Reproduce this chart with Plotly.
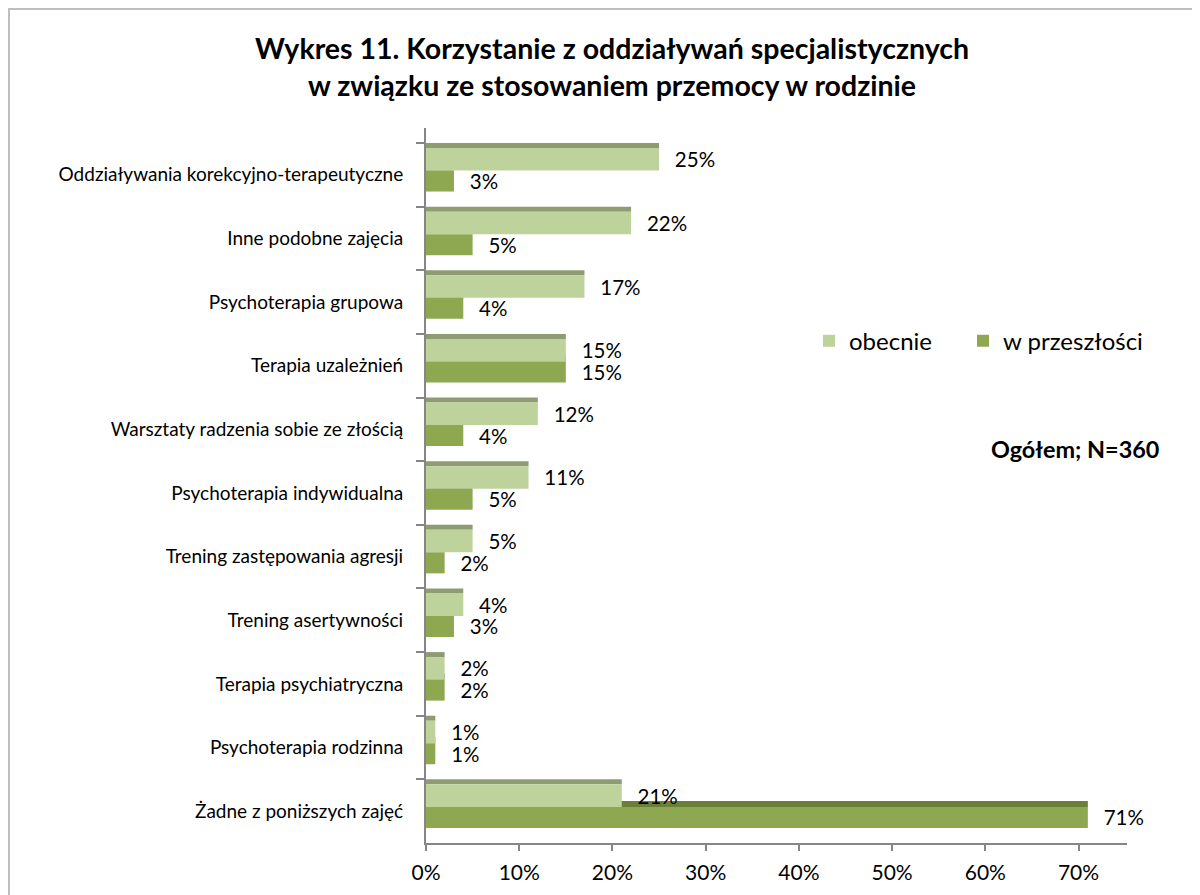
import plotly.graph_objects as go

categories = [
    "Oddziaływania korekcyjno-terapeutyczne",
    "Inne podobne zajęcia",
    "Psychoterapia grupowa",
    "Terapia uzależnień",
    "Warsztaty radzenia sobie ze złością",
    "Psychoterapia indywidualna",
    "Trening zastępowania agresji",
    "Trening asertywności",
    "Terapia psychiatryczna",
    "Psychoterapia rodzinna",
    "Żadne z poniższych zajęć",
]
obecnie = [25, 22, 17, 15, 12, 11, 5, 4, 2, 1, 21]
przeszlosc = [3, 5, 4, 15, 4, 5, 2, 3, 2, 1, 71]
x_ticks = [0, 10, 20, 30, 40, 50, 60, 70]

FONT = "Lato"
LIGHT = "#BDD39B"
LIGHT_TOP = "#8E9B73"
DARK = "#8EA852"
DARK_TOP = "#6A803A"

# plot area in page px (the html body adds an 8px margin)
L, T, W, H = 418, 120, 701, 715

# band = one category (about 63.6 px); pseudo-3D top strips drawn as thin bars
BAND = 63.6
def off(px):
    return -0.5 + px / BAND

pad = "\u2002\u2009"
label_font = dict(size=20.5, color="#000000", family=FONT)

fig = go.Figure()

# past series top strip (mostly hidden behind "obecnie")
fig.add_trace(go.Bar(
    y=categories, x=przeszlosc, orientation="h",
    offset=off(21.5), width=6 / BAND,
    marker=dict(color=DARK_TOP, line_width=0),
    showlegend=False, hoverinfo="skip",
))
fig.add_trace(go.Bar(
    y=categories, x=przeszlosc, orientation="h", name="w przeszłości",
    offset=off(27.5), width=21 / BAND,
    marker=dict(color=DARK, line_width=0),
    text=przeszlosc, texttemplate=pad + "%{x}%", textposition="outside",
    constraintext="none", cliponaxis=False, textfont=label_font,
    legend="legend2",
))
fig.add_trace(go.Bar(
    y=categories, x=obecnie, orientation="h",
    offset=off(0), width=5 / BAND,
    marker=dict(color=LIGHT_TOP, line_width=0),
    showlegend=False, hoverinfo="skip",
))
fig.add_trace(go.Bar(
    y=categories, x=obecnie, orientation="h", name="obecnie",
    offset=off(5), width=22.5 / BAND,
    marker=dict(color=LIGHT, line_width=0),
    text=obecnie, texttemplate=pad + "%{x}%", textposition="outside",
    constraintext="none", cliponaxis=False, textfont=label_font,
    legend="legend",
))

legend_style = dict(
    orientation="h", y=0.702, xanchor="left", yanchor="middle",
    font=dict(size=24, family=FONT), bgcolor="rgba(0,0,0,0)",
)

fig.update_layout(
    width=1200,
    height=895,
    barmode="overlay",
    paper_bgcolor="white",
    plot_bgcolor="white",
    margin=dict(l=L, r=1200 - L - W, t=T, b=895 - T - H, autoexpand=False),
    font=dict(family=FONT, color="#000000"),
    title=dict(
        text="Wykres 11. Korzystanie z oddziaływań specjalistycznych<br>w związku ze stosowaniem przemocy w rodzinie",
        x=604 / 1200, xanchor="center",
        y=1 - 51 / 895, yanchor="middle",
        font=dict(size=28.5, family=FONT, color="#000000", weight="bold"),
    ),
    legend=dict(x=(801 - L) / W, **legend_style),
    legend2=dict(x=(955 - L) / W, **legend_style),
    annotations=[dict(
        text="<b>Ogółem; N=360</b>",
        xref="paper", yref="paper", x=0.926, y=0.551,
        xanchor="center", yanchor="middle", showarrow=False,
        font=dict(size=23.4, family=FONT),
    )],
    shapes=[dict(
        type="rect", xref="paper", yref="paper",
        x0=(1 - L) / W, x1=1.3, y0=-0.2, y1=(T + H - 1) / H,
        line=dict(color="#BFBFBF", width=2), fillcolor="rgba(0,0,0,0)",
        layer="below",
    )],
)

fig.update_xaxes(
    range=[0, 75.2],
    tickvals=x_ticks,
    ticktext=[f"{v}%" for v in x_ticks],
    showgrid=False, zeroline=False,
    showline=True, linecolor="#868686", linewidth=2,
    ticks="outside", ticklen=6, tickcolor="#868686", tickwidth=2,
    tickfont=dict(size=21, family=FONT),
    ticklabelstandoff=4,
)
fig.update_yaxes(
    type="category",
    categoryorder="array", categoryarray=categories,
    range=[10.5, -0.5 - 15 / BAND],
    tickson="boundaries",
    showgrid=False, zeroline=False,
    showline=True, linecolor="#868686", linewidth=2,
    ticks="outside", ticklen=8, tickcolor="#868686", tickwidth=2,
    tickfont=dict(size=19, family=FONT),
    ticklabelstandoff=17,
)

fig.write_html("out.html")
